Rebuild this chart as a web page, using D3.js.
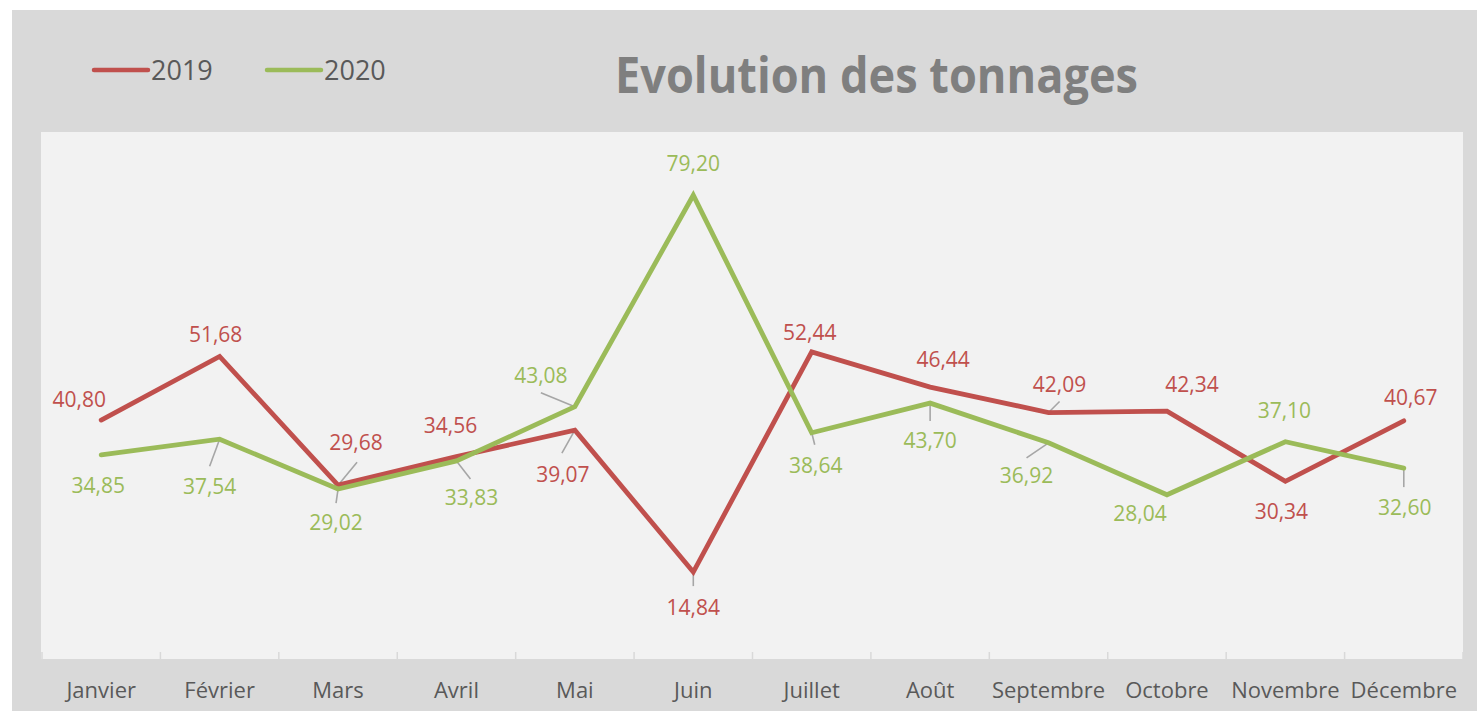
<!DOCTYPE html>
<html>
<head>
<meta charset="utf-8">
<script src="https://cdn.jsdelivr.net/npm/d3@7"></script>
<style>
    body { margin: 0; background: #ffffff; }
    text { font-family: "Open Sans", "Noto Sans", sans-serif; }
</style>
</head>
<body>
<svg id="graph" width="1477" height="711"></svg>
<script>
// donnees du graphique
var mois = ["Janvier", "Février", "Mars", "Avril", "Mai", "Juin", "Juillet", "Août", "Septembre", "Octobre", "Novembre", "Décembre"];
var tonnes2019 = [40.80, 51.68, 29.68, 34.56, 39.07, 14.84, 52.44, 46.44, 42.09, 42.34, 30.34, 40.67];
var tonnes2020 = [34.85, 37.54, 29.02, 33.83, 43.08, 79.20, 38.64, 43.70, 36.92, 28.04, 37.10, 32.60];
var annees = ["2019", "2020"];

// position des etiquettes (decalage par rapport au point) et traits de rappel
var etiq2019 = [[-22, -21], [-4, -22], [18, -43], [-6, -31], [-12, 44], [0, 35], [-2, -19], [13, -28], [11, -28], [25, -27], [-4, 30], [7, -23]];
var etiq2020 = [[-3, 31], [-10, 47], [-2, 33], [15, 37], [-34, -31], [0, -32], [4, 33], [0, 37], [-22, 33], [-27, 19], [-1, -31], [1, 39]];
var rappel2019 = [null, null, [19, -23], null, [-13, 23], [0, 14], null, null, [11, -11], null, null, null];
var rappel2020 = [null, [-10, 27], [-2, 14], [14, 18], [-34, -14], null, [3, 12], [0, 18], [-22, 15], null, null, [0, 19]];

var couleurs = ["#c0504d", "#9bbb59"];

function creaGrafica() {
    var svg = d3.select("#graph");

    // fond gris + zone de trace
    svg.append("rect").attr("x", 12).attr("y", 10).attr("width", 1465).attr("height", 701).attr("fill", "#d9d9d9");
    svg.append("rect").attr("x", 41).attr("y", 132).attr("width", 1422).attr("height", 527).attr("fill", "#f2f2f2");

    var x = d3.scaleBand().domain(mois).range([42, 1463]);
    var y = d3.scaleLinear().domain([0, 90]).range([659, 132]);
    var cx = d => x(d) + x.bandwidth() / 2;

    // axe des x (etiquettes)
    var xaxis = svg.append("g")
        .attr("transform", "translate(0,659)")
        .call(d3.axisBottom(x).tickSize(0).tickPadding(23));
    xaxis.select(".domain").remove();
    xaxis.selectAll("text")
        .attr("fill", "#595959")
        .style("font-size", "22px")
        .style("font-family", "'Open Sans', sans-serif");

    // graduations entre les categories
    svg.append("g").selectAll("line")
        .data(d3.range(mois.length + 1))
        .enter().append("line")
        .attr("x1", i => 42 + i * x.step())
        .attr("x2", i => 42 + i * x.step())
        .attr("y1", 652).attr("y2", 659)
        .attr("stroke", "#d9d9d9").attr("stroke-width", 1.5);

    var series = [
        { nom: annees[0], val: tonnes2019, etiq: etiq2019, rappel: rappel2019, col: couleurs[0] },
        { nom: annees[1], val: tonnes2020, etiq: etiq2020, rappel: rappel2020, col: couleurs[1] }
    ];

    // traits de rappel
    series.forEach(function (s) {
        svg.append("g").selectAll("line")
            .data(mois.map((m, i) => ({ m: m, v: s.val[i], r: s.rappel[i] })).filter(d => d.r))
            .enter().append("line")
            .attr("x1", d => cx(d.m))
            .attr("y1", d => y(d.v))
            .attr("x2", d => cx(d.m) + d.r[0])
            .attr("y2", d => y(d.v) + d.r[1])
            .attr("stroke", "#a6a6a6")
            .attr("stroke-width", 1.6);
    });

    var line = d3.line()
        .x((d, i) => cx(mois[i]))
        .y(d => y(d));

    series.forEach(function (s) {
        svg.append("path")
            .datum(s.val)
            .attr("d", line)
            .attr("fill", "none")
            .attr("stroke", s.col)
            .attr("stroke-width", 4.8)
            .attr("stroke-linejoin", "miter")
            .attr("stroke-linecap", "round");
    });

    // etiquettes de donnees
    series.forEach(function (s) {
        svg.append("g").selectAll("text")
            .data(s.val)
            .enter().append("text")
            .attr("x", (d, i) => cx(mois[i]) + s.etiq[i][0])
            .attr("y", (d, i) => y(d) + s.etiq[i][1] + 7.5)
            .attr("text-anchor", "middle")
            .attr("fill", s.col)
            .style("font-size", "21px")
            .text(d => d.toFixed(2).replace(".", ","));
    });

    // legende
    var leg = svg.append("g").selectAll("g")
        .data(series)
        .enter().append("g")
        .attr("transform", (d, i) => "translate(" + (94 + i * 173) + ",70)");
    leg.append("line")
        .attr("x1", 0).attr("x2", 54)
        .attr("stroke", d => d.col)
        .attr("stroke-width", 4.5)
        .attr("stroke-linecap", "round");
    leg.append("text")
        .attr("x", 57).attr("y", 10)
        .attr("fill", "#595959")
        .style("font-size", "27px")
        .text(d => d.nom);

    // titre
    svg.append("text")
        .attr("x", 615).attr("y", 93)
        .attr("fill", "#7f7f7f")
        .attr("textLength", 523)
        .attr("lengthAdjust", "spacingAndGlyphs")
        .style("font-size", "50px")
        .style("font-weight", "bold")
        .text("Evolution des tonnages");
}

creaGrafica();
</script>
</body>
</html>
